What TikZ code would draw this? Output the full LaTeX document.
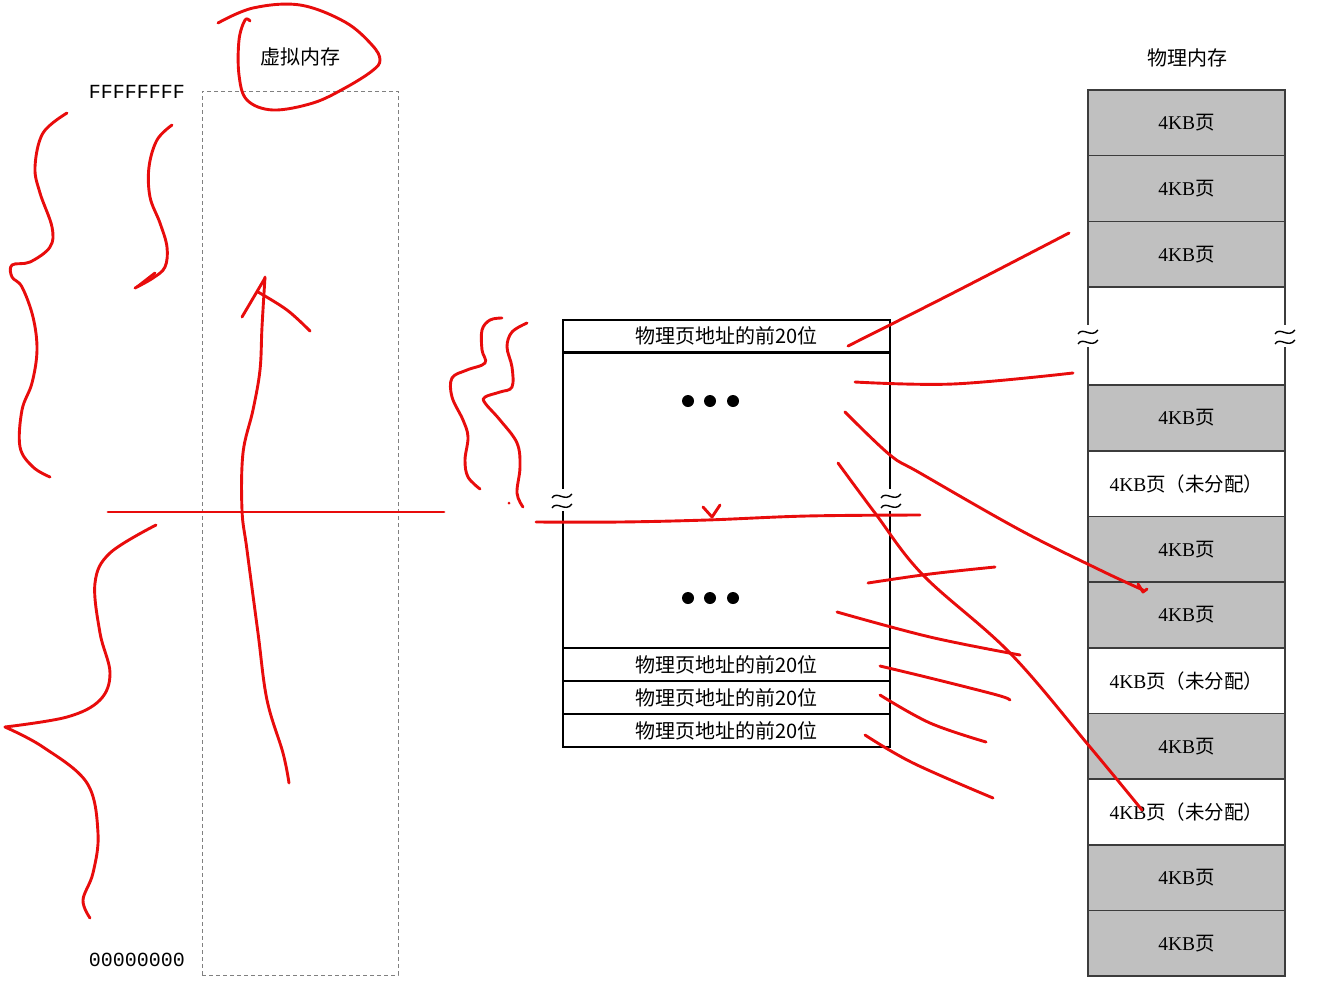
\documentclass[tikz,border=0pt]{standalone}
\usepackage{fontspec}
\setmainfont{Liberation Serif}
\newfontfamily\cjk{Noto Sans CJK SC}
\newfontfamily\hexfont{Liberation Mono}
\definecolor{inkred}{RGB}{232,12,12}
\definecolor{pagegray}{RGB}{192,192,192}
\definecolor{framegray}{RGB}{60,60,60}
\tikzset{
  ink/.style={color=inkred, line width=2.9pt, line cap=round, line join=round},
  pagebox/.style={minimum width=197pt, minimum height=65.7pt, inner sep=0pt, outer sep=0pt, font=\fontsize{19.5}{19.5}\selectfont},
  entrybox/.style={draw=black, line width=2pt, minimum width=327pt, minimum height=33pt, inner sep=0pt, font=\cjk\fontsize{20}{20}\selectfont},
  caption/.style={font=\cjk\fontsize{20}{20}\selectfont},
  hexlabel/.style={font=\hexfont\fontsize{20}{20}\selectfont},
  brkmark/.pic={
    \fill[white] (-6,-11) rectangle (6,11);
    \draw[line width=1.4pt] (-10,-2) .. controls (-5,-10) and (3,3) .. (10,-6);
    \draw[line width=1.4pt] (-10,8) .. controls (-5,0) and (3,13) .. (10,4);
  }
}
\begin{document}
\begin{tikzpicture}[x=1pt,y=-1pt]
\useasboundingbox (0,0) rectangle (1337,1007);

% virtual memory
\node[draw=gray, line width=0.9pt, dash pattern=on 4pt off 3pt, minimum width=196pt, minimum height=884pt] (vmem) at (300,533) {};
\node[caption] (vmemlabel) at (300,57) {虚拟内存};
\node[hexlabel] (vtop) at (137,92) {FFFFFFFF};
\node[hexlabel] (vbottom) at (137,960) {00000000};

% page table
\node[entrybox] (pte0) at (726.5,336) {物理页地址的前20位};
\node[draw=black, line width=2pt, minimum width=327pt, minimum height=296pt] (ptebody) at (726.5,500) {};
\node[entrybox] (pte1) at (726.5,664.5) {物理页地址的前20位};
\node[entrybox] (pte2) at (726.5,697.5) {物理页地址的前20位};
\node[entrybox] (pte3) at (726.5,730.5) {物理页地址的前20位};
\pic at (ptebody.west) {brkmark};
\pic at (ptebody.east) {brkmark};
\foreach \y in {401,598}{
  \foreach \x in {688,710,733}{
    \fill (\x,\y) circle (6pt);
  }
}

% physical memory
\node[caption] (pmemlabel) at (1187,58) {物理内存};
\foreach \n/\y/\c/\t in {1/122.8/pagegray/{}, 2/188.5/pagegray/{}, 3/254.2/pagegray/{},
    4/418/pagegray/{}, 5/483.7/white/{（未分配）}, 6/549.3/pagegray/{}, 7/615/pagegray/{},
    8/680.7/white/{（未分配）}, 9/746.3/pagegray/{}, 10/812/white/{（未分配）},
    11/877.7/pagegray/{}, 12/943.3/pagegray/{}}{
  \node[pagebox, fill=\c] (ppage\n) at (1186.5,\y) {4KB{\cjk 页\t}};
}
\foreach \n in {1,...,12}{
  \draw[framegray, line width=1.4pt] (ppage\n.south west) rectangle (ppage\n.north east);
}
\node[draw=framegray, line width=1.4pt, fill=white, minimum width=197pt, minimum height=98pt, outer sep=0pt] (pgap) at (1186.5,336) {};
\pic at (pgap.west) {brkmark};
\pic at (pgap.east) {brkmark};

% red marks
\draw[ink] plot[smooth, tension=0.6] coordinates {(218,23) (253,8) (300,5) (345,22) (372,45) (380,60) (372,71) (345,88) (313,103) (273,110) (247,100) (239,75) (239,40) (245,20) (250,21)};
\draw[ink] plot[smooth, tension=0.6] coordinates {(67,113) (43,133) (35,167) (40,193) (52,227) (50,247) (30,262) (12,265) (12,277) (22,287) (33,317) (37,350) (32,383) (22,410) (20,447) (33,467) (50,477)};
\draw[ink] plot[smooth, tension=0.6] coordinates {(172,125) (157,140) (149,167) (150,197) (160,223) (167,247) (165,267) (153,278) (135,288)};
\draw[ink] (137,287) -- (155,273);
\draw[ink] (108,512) -- (444,512);
\draw[ink] plot[smooth, tension=0.6] coordinates {(156,525) (110,553) (95,583) (100,633) (110,673) (100,700) (67,717) (5,727)};
\draw[ink] plot[smooth, tension=0.6] coordinates {(5,727) (43,747) (87,783) (98,833) (93,873) (83,900) (90,918)};
\draw[ink] plot[smooth, tension=0.6] coordinates {(289,783) (283,753) (267,700) (258,633) (247,550) (242,510) (243,453) (253,410) (260,370) (262,327) (265,277)};
\draw[ink] (242,317) -- (265,278);
\draw[ink] plot[smooth, tension=0.6] coordinates {(258,292) (287,310) (310,331)};
\draw[ink] plot[smooth, tension=0.6] coordinates {(502,318) (490,320) (482,330) (482,350) (485,363) (467,370) (452,378) (452,397) (463,420) (468,437) (465,460) (468,477) (480,489)};
\draw[ink] plot[smooth, tension=0.6] coordinates {(527,323) (512,332) (507,347) (512,367) (512,387) (500,392) (485,397) (485,403) (500,420) (517,443) (520,467) (517,493) (523,507)};
\fill[inkred] (509,503) circle (1.5pt);
\draw[ink] plot[smooth, tension=0.6] coordinates {(536,522) (620,522) (707,520) (807,516) (920,515)};
\draw[ink] (703,507) -- (712,517) -- (720,505);
\draw[ink] plot[smooth, tension=0.6] coordinates {(848,346) (953,293) (1069,233)};
\draw[ink] plot[smooth, tension=0.6] coordinates {(855,382) (953,384) (1073,373)};
\draw[ink] plot[smooth, tension=0.6] coordinates {(845,412) (890,455) (920,473) (1020,530) (1100,570) (1143,590)};
\draw[ink] (1138,584) -- (1143,592) -- (1147,589);
\draw[ink] plot[smooth, tension=0.6] coordinates {(838,463) (875,513) (923,575) (1010,653) (1090,747) (1142,810)};
\draw[ink] plot[smooth, tension=0.6] coordinates {(868,583) (930,574) (995,567)};
\draw[ink] plot[smooth, tension=0.6] coordinates {(837,612) (930,637) (1020,655)};
\draw[ink] plot[smooth, tension=0.6] coordinates {(880,666) (930,678) (997,695) (1010,700)};
\draw[ink] plot[smooth, tension=0.6] coordinates {(880,695) (930,723) (986,742)};
\draw[ink] plot[smooth, tension=0.6] coordinates {(865,735) (913,763) (993,798)};
\end{tikzpicture}
\end{document}
